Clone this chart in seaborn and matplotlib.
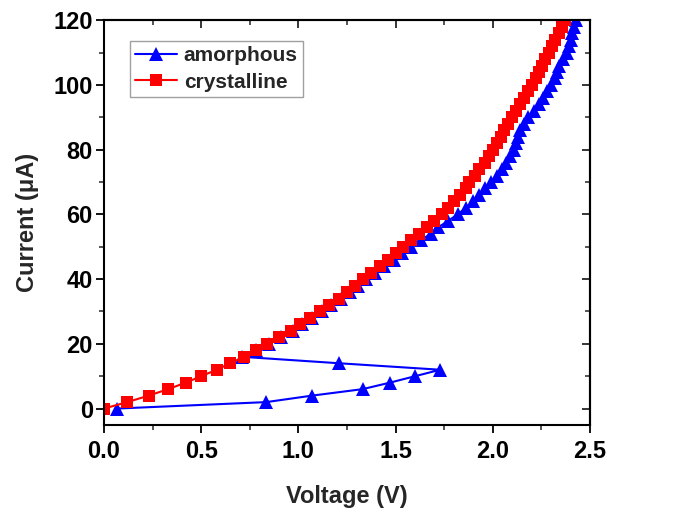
import matplotlib
matplotlib.use("Agg")
import matplotlib.pyplot as plt
import seaborn as sns
import numpy as np
from matplotlib.ticker import MultipleLocator

# ---- data ----
current_cryst = list(range(0, 122, 2))
voltage_cryst = [0.00, 0.12, 0.23, 0.33, 0.42, 0.50, 0.58, 0.65, 0.72, 0.78,
                 0.84, 0.90, 0.96, 1.01, 1.06, 1.11, 1.16, 1.21, 1.25, 1.29,
                 1.33, 1.375, 1.42, 1.46, 1.50, 1.54, 1.58, 1.62, 1.66, 1.70,
                 1.74, 1.77, 1.80, 1.83, 1.86, 1.88, 1.91, 1.93, 1.96, 1.98,
                 2.00, 2.02, 2.04, 2.06, 2.08, 2.10, 2.12, 2.14, 2.16, 2.18,
                 2.20, 2.22, 2.24, 2.255, 2.27, 2.29, 2.305, 2.32, 2.34, 2.355,
                 2.37]

current_amor = list(range(0, 122, 2))
voltage_amor = [0.065, 0.835, 1.07, 1.33, 1.47, 1.60, 1.73, 1.21, 0.71, 0.78,
                0.85, 0.91, 0.97, 1.02, 1.07, 1.12, 1.17, 1.22, 1.265, 1.305,
                1.35, 1.395, 1.44, 1.49, 1.535, 1.58, 1.63, 1.68, 1.72, 1.77,
                1.82, 1.86, 1.90, 1.93, 1.96, 1.99, 2.02, 2.05, 2.07, 2.09,
                2.11, 2.12, 2.13, 2.14, 2.16, 2.18, 2.21, 2.24, 2.26, 2.28,
                2.30, 2.32, 2.33, 2.34, 2.36, 2.38, 2.39, 2.40, 2.41, 2.42,
                2.43]

series_names = ["amorphous", "crystalline"]
x_ticks = [0.0, 0.5, 1.0, 1.5, 2.0, 2.5]
y_ticks = [0, 20, 40, 60, 80, 100, 120]

# ---- figure ----
sns.set_style("white")
plt.rcParams['font.family'] = ['Liberation Sans', 'DejaVu Sans']
plt.rcParams['font.weight'] = 'bold'

fig = plt.figure(figsize=(6.75, 5.18), dpi=100)
ax = fig.add_axes([0.154, 0.180, 0.720, 0.781])

sns.lineplot(x=voltage_amor, y=current_amor, sort=False, estimator=None,
             ax=ax, color="#0000ff", marker="^", markersize=10.5,
             markeredgewidth=0, linewidth=1.5, label=series_names[0])
sns.lineplot(x=voltage_cryst, y=current_cryst, sort=False, estimator=None,
             ax=ax, color="#ff0000", marker="s", markersize=8.5,
             markeredgewidth=0, linewidth=1.5, label=series_names[1])

ax.set_xlim(0, 2.5)
ax.set_ylim(-5, 120)
ax.set_xticks(x_ticks)
ax.set_yticks(y_ticks)
ax.xaxis.set_minor_locator(MultipleLocator(0.25))
ax.yaxis.set_minor_locator(MultipleLocator(10))
ax.set_xticklabels([f"{t:.1f}" for t in x_ticks], fontsize=17, fontweight='bold')
ax.set_yticklabels([str(t) for t in y_ticks], fontsize=17, fontweight='bold')

ax.tick_params(which='major', direction='out', length=6, width=1.3,
               bottom=True, left=True, top=False, right=False, colors='black')
ax.tick_params(axis='y', which='major', pad=2)
ax.tick_params(axis='x', which='major', pad=5)
ax.tick_params(which='minor', direction='out', length=3.5, width=1.1,
               bottom=True, left=True, top=False, right=False)

# mirrored inward ticks on the top and right
secx = ax.secondary_xaxis('top')
secx.set_xticks(x_ticks)
secx.xaxis.set_minor_locator(MultipleLocator(0.25))
secx.tick_params(which='major', direction='in', length=6, width=1.3, labeltop=False)
secx.tick_params(which='minor', direction='in', length=3.5, width=1.1)
secx.spines['top'].set_linewidth(1.5)
secy = ax.secondary_yaxis('right')
secy.set_yticks(y_ticks)
secy.yaxis.set_minor_locator(MultipleLocator(10))
secy.tick_params(which='major', direction='in', length=6, width=1.3, labelright=False)
secy.tick_params(which='minor', direction='in', length=3.5, width=1.1)
secy.spines['right'].set_linewidth(1.5)

for s in ax.spines.values():
    s.set_linewidth(1.5)
    s.set_color('black')

ax.set_xlabel("Voltage (V)", fontsize=17, fontweight='bold', labelpad=16)
ax.set_ylabel("Current (μA)", fontsize=17, fontweight='bold', labelpad=10)

leg = ax.legend(loc='upper left', bbox_to_anchor=(0.053, 0.948), borderaxespad=0,
                frameon=True, fancybox=False, edgecolor='#888888',
                handlelength=2.0, borderpad=0.25, labelspacing=0.35,
                handletextpad=0.35, prop={'weight': 'bold', 'size': 15})
leg.get_frame().set_linewidth(1.0)

fig.savefig("out.png", dpi=100)
